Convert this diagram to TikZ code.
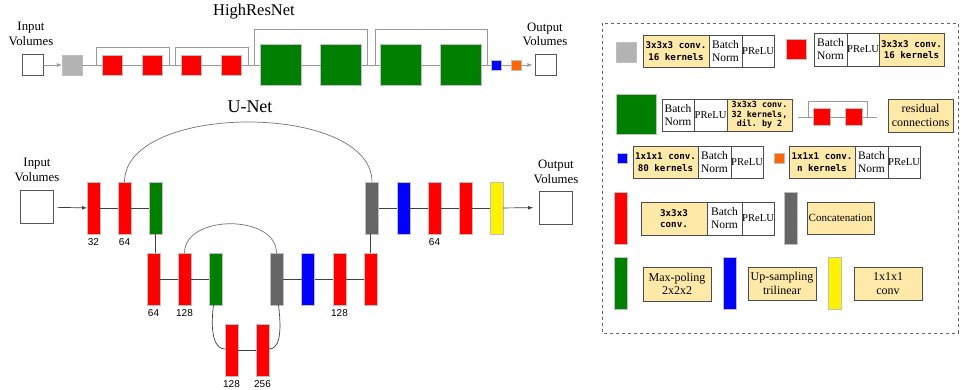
\documentclass[tikz,border=0pt]{standalone}
\usepackage{fontspec}
\setmainfont{Liberation Serif}
\setsansfont{Liberation Sans}
\setmonofont{DejaVu Sans Mono}
\usetikzlibrary{arrows,positioning}

\definecolor{lightgr}{HTML}{B3B3B3}
\definecolor{catgr}{HTML}{666666}
\definecolor{dkgreen}{HTML}{008000}
\definecolor{orng}{HTML}{FF6600}
\definecolor{lightyel}{HTML}{FFE9A8}
\definecolor{hrline}{HTML}{999999}

\newcommand{\convfont}{\fontsize{9.2}{11.5}\selectfont\ttfamily\bfseries}
\newcommand{\smconvfont}{\fontsize{8.4}{9.6}\selectfont\ttfamily\bfseries}

\tikzset{
  blk/.style={draw=black!25, line width=0.5pt, inner sep=0pt, outer sep=0pt, minimum size=#1},
  ubar/.style={draw=black!25, line width=0.5pt, inner sep=0pt, outer sep=0pt, minimum width=13pt, minimum height=52pt},
  volbox/.style={draw=black!65, line width=0.8pt, fill=white, inner sep=0pt, minimum size=#1},
  title/.style={font=\fontsize{16.5}{18}\selectfont, inner sep=0pt},
  vlabel/.style={font=\fontsize{12.8}{14.5}\selectfont, align=center, inner sep=0pt},
  num/.style={font=\fontsize{10}{12}\selectfont\sffamily, inner sep=1pt},
  hline/.style={draw=hrline, line width=0.8pt},
  uline/.style={draw=black!75, line width=0.7pt},
  ybox/.style={draw=black!70, fill=lightyel, line width=0.7pt, inner sep=0pt, outer sep=0pt, align=center, minimum height=32pt, font=\fontsize{12}{13.5}\selectfont},
  cbox/.style={ybox, font=\convfont},
  wbox/.style={ybox, fill=white, font=\fontsize{11.5}{13}\selectfont},
  prelu/.style={wbox, font=\fontsize{10.6}{12}\selectfont},
}

\begin{document}
\begin{tikzpicture}[x=1pt, y=-1pt]
  \useasboundingbox (0,0) rectangle (961,390);

  % HighResNet
  \node[title] (hrtitle) at (254,12) {HighResNet};
  \node[vlabel] (hrin) at (31,34) {Input\\Volumes};
  \node[vlabel] (hrout) at (545,34.5) {Output\\Volumes};
  \node[volbox=21pt] (hrinbox) at (32.5,65) {};
  \node[blk=20pt, fill=lightgr] (h0) at (72,65) {};
  \node[blk=20pt, fill=red] (h1) at (112,65) {};
  \node[blk=20pt, fill=red] (h2) at (152,65) {};
  \node[blk=20pt, fill=red] (h3) at (191,65) {};
  \node[blk=20pt, fill=red] (h4) at (231,65) {};
  \node[blk=41pt, fill=dkgreen] (h5) at (280.5,65) {};
  \node[blk=41pt, fill=dkgreen] (h6) at (341,65) {};
  \node[blk=41pt, fill=dkgreen] (h7) at (400.5,65) {};
  \node[blk=41pt, fill=dkgreen] (h8) at (460.5,65) {};
  \node[blk=10pt, fill=blue] (hb) at (496,65) {};
  \node[blk=10pt, fill=orng] (ho) at (516,65) {};
  \node[volbox=21pt] (hroutbox) at (545.5,65) {};

  \draw[hline, -latex] (hrinbox) -- (h0);
  \draw[hline] (h0) -- (h1) -- (h2) -- (h3) -- (h4) -- (h5) -- (h6) -- (h7) -- (h8) -- (hb) -- (ho);
  \draw[hline, -latex, shorten >=2pt] (ho) -- (hroutbox);
  % residual connections
  \draw[hline] ([xshift=-6pt]h1.west) -- ++(0,-18) -| ([xshift=7pt]h2.east);
  \draw[hline] ([xshift=-6pt]h3.west) -- ++(0,-18) -| ([xshift=7pt]h4.east);
  \draw[hline] ([xshift=-6pt]h5.west) -- ++(0,-36) -| ([xshift=6pt]h6.east);
  \draw[hline] ([xshift=-5pt]h7.west) -- ++(0,-36) -| ([xshift=6pt]h8.east);

  % U-Net
  \node[title, font=\fontsize{18}{20}\selectfont] (untitle) at (250,107) {U-Net};
  \node[vlabel] (unin) at (37,170) {Input\\Volumes};
  \node[vlabel] (unout) at (556,172) {Output\\Volumes};
  \node[volbox=33pt] (uninbox) at (36.5,207) {};
  \node[volbox=33pt] (unoutbox) at (556,207.5) {};

  \node[ubar, fill=red] (ur1) at (93.5,208) {};
  \node[ubar, fill=red] (ur2) at (124.5,208) {};
  \node[ubar, fill=dkgreen] (ug1) at (155.5,208) {};
  \node[ubar, fill=catgr] (uk1) at (372,208) {};
  \node[ubar, fill=blue] (ub1) at (403.5,208) {};
  \node[ubar, fill=red] (ur3) at (434.5,208) {};
  \node[ubar, fill=red] (ur4) at (465.5,208) {};
  \node[ubar, fill=yellow] (uy) at (496.5,208) {};

  \node[ubar, fill=red] (dr1) at (153.5,279) {};
  \node[ubar, fill=red] (dr2) at (184.5,279) {};
  \node[ubar, fill=dkgreen] (dg2) at (215.5,279) {};
  \node[ubar, fill=catgr] (dk2) at (276.5,279) {};
  \node[ubar, fill=blue] (db2) at (308,279) {};
  \node[ubar, fill=red] (dr3) at (339.5,279) {};
  \node[ubar, fill=red] (dr4) at (370.5,279) {};

  \node[ubar, fill=red] (br1) at (231.5,350) {};
  \node[ubar, fill=red] (br2) at (262.5,350) {};

  \node[num, below=3pt of ur1] (n32) {32};
  \node[num, below=3pt of ur2] (n64a) {64};
  \node[num, below=3pt of ur3] (n64b) {64};
  \node[num, below=3pt of dr1] (n64c) {64};
  \node[num, below=3pt of dr2] (n128a) {128};
  \node[num, below=3pt of dr3] (n128b) {128};
  \node[num, below=3pt of br1] (n128c) {128};
  \node[num, below=3pt of br2] (n256) {256};

  \draw[uline, -latex, shorten <=4pt] (uninbox) -- (ur1);
  \draw[uline] (ur1) -- (ur2) -- (ug1);
  \draw[uline] (uk1) -- (ub1) -- (ur3) -- (ur4) -- (uy);
  \draw[uline, -latex, shorten >=6pt] (uy) -- (unoutbox);
  \draw[uline] (dr1) -- (dr2) -- (dg2);
  \draw[uline] (dk2) -- (db2) -- (dr3) -- (dr4);
  \draw[uline] (br1) -- (br2);
  \draw[uline] (ug1.south) -- (ug1.south |- dr1.north);
  \draw[uline] (dr4.north) -- (dr4.north |- uk1.south);
  % skip connections
  \draw[uline, draw=black!55] (ur2.north) .. controls +(0,-80) and +(0,-80) .. (uk1.north);
  \draw[uline, draw=black!55] (dr2.north) .. controls +(0,-39) and +(0,-39) .. (dk2.north);
  \draw[uline] ([xshift=-2pt]dg2.south) .. controls +(-4,32) and +(-9,0) .. ([yshift=1pt]br1.west);
  \draw[uline] ([yshift=1pt]br2.east) .. controls +(9,0) and +(4,32) .. ([xshift=2pt]dk2.south);

  % legend
  \draw[dashed, black!60, line width=0.8pt] (602,23) rectangle (958,333);

  \node[blk=20pt, fill=lightgr] (lg0) at (626,52) {};
  \node[cbox, minimum width=66pt] (lg1) at (676,51) {3x3x3 conv.\\16 kernels};
  \node[wbox, minimum width=33pt, right=0pt of lg1] (lg2) {Batch\\Norm};
  \node[prelu, minimum width=32pt, right=0pt of lg2] (lg3) {PReLU};
  \node[blk=20pt, fill=red] (lr0) at (796,49) {};
  \node[wbox, minimum width=33pt, minimum height=33pt] (lr1) at (830.5,49.5) {Batch\\Norm};
  \node[prelu, minimum width=32pt, minimum height=33pt, right=0pt of lr1] (lr2) {PReLU};
  \node[cbox, minimum width=65pt, minimum height=33pt, right=0pt of lr2] (lr3) {3x3x3 conv.\\16 kernels};

  \node[blk=40pt, fill=dkgreen] (ld0) at (636,114) {};
  \node[wbox, minimum width=32pt] (ld1) at (678,115) {Batch\\Norm};
  \node[prelu, minimum width=33pt, right=0pt of ld1] (ld2) {PReLU};
  \node[cbox, minimum width=65pt, right=0pt of ld2, font=\smconvfont] (ld3) {3x3x3 conv.\\32 kernels,\\dil. by 2};
  \coordinate (resl) at (798,117);
  \coordinate (resr) at (877,117);
  \node[blk=17pt, fill=red] (res1) at (821.5,117) {};
  \node[blk=17pt, fill=red] (res2) at (854,117) {};
  \draw[hline] (resl) -- (res1) -- (res2) -- (resr);
  \draw[hline] ([xshift=-5pt]res1.west) -- ++(0,-16) -| ([xshift=5pt]res2.east);
  \node[ybox, minimum width=65pt, minimum height=33pt] (lres) at (920.5,115.5) {residual\\connections};

  \node[blk=10pt, fill=blue] (lb0) at (622,158) {};
  \node[cbox, minimum width=65pt] (lb1) at (665.5,162) {1x1x1 conv.\\80 kernels};
  \node[wbox, minimum width=33pt, right=0pt of lb1] (lb2) {Batch\\Norm};
  \node[prelu, minimum width=32pt, right=0pt of lb2] (lb3) {PReLU};
  \node[blk=10pt, fill=orng] (lo0) at (779,158) {};
  \node[cbox, minimum width=66pt] (lo1) at (822,162) {1x1x1 conv.\\n kernels};
  \node[wbox, minimum width=33pt, right=0pt of lo1] (lo2) {Batch\\Norm};
  \node[prelu, minimum width=32pt, right=0pt of lo2] (lo3) {PReLU};

  \node[ubar, fill=red] (lu0) at (620.5,218) {};
  \node[cbox, minimum width=66pt, minimum height=33pt] (lu1) at (674,218.5) {3x3x3\\conv.};
  \node[wbox, minimum width=35pt, minimum height=33pt, right=0pt of lu1] (lu2) {Batch\\Norm};
  \node[prelu, minimum width=32pt, minimum height=33pt, right=0pt of lu2] (lu3) {PReLU};
  \node[ubar, fill=catgr] (lc0) at (790.5,218) {};
  \node[ybox, minimum width=67pt, font=\fontsize{11}{13}\selectfont] (lc1) at (840.5,218) {Concatenation};

  \node[ubar, fill=dkgreen] (lm0) at (620.5,283) {};
  \node[ybox, minimum width=68pt, minimum height=34pt] (lm1) at (677,284) {Max-poling\\2x2x2};
  \node[ubar, fill=blue] (lup0) at (729.5,283) {};
  \node[ybox, minimum width=68pt, minimum height=33pt] (lup1) at (782,283.5) {Up-sampling\\trilinear};
  \node[ubar, fill=yellow] (ly0) at (834.5,283) {};
  \node[ybox, minimum width=68pt, minimum height=33pt] (ly1) at (888,283.5) {1x1x1\\conv};
\end{tikzpicture}
\end{document}
